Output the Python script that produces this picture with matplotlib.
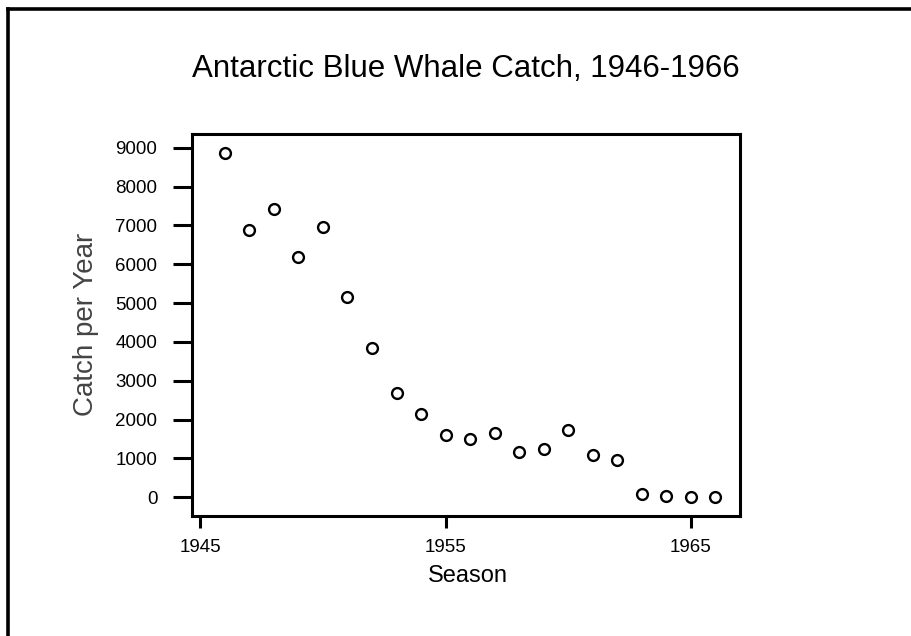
import matplotlib
matplotlib.use('Agg')
import matplotlib.pyplot as plt
from matplotlib.lines import Line2D

# Antarctic blue whale catch per season
seasons = list(range(1946, 1967))
catch = [8860, 6880, 7420, 6190, 6950, 5150, 3850, 2680, 2140, 1590, 1510,
         1660, 1170, 1250, 1740, 1100, 960, 75, 20, 15, 15]
x_ticks = [1945, 1955, 1965]
y_ticks = list(range(0, 10000, 1000))

plt.rcParams['font.family'] = ['Liberation Sans', 'DejaVu Sans']

fig = plt.figure(figsize=(9.12, 6.36), dpi=100)
ax = fig.add_axes([0.2102, 0.1892, 0.6012, 0.5997])

ax.plot(seasons, catch, linestyle='none', marker='o', markersize=7.8,
        markerfacecolor='white', markeredgecolor='black', markeredgewidth=1.7)

ax.set_xlim(1944.65, 1967.0)
ax.set_ylim(-474, 9345)
ax.set_xticks(x_ticks)
ax.set_yticks(y_ticks)
ax.set_xticklabels([str(t) for t in x_ticks])
ax.set_yticklabels([str(t) for t in y_ticks])

for s in ax.spines.values():
    s.set_linewidth(2.2)
ax.tick_params(axis='y', length=13.7, width=2.2, pad=11, labelsize=13.5)
ax.tick_params(axis='x', length=8.6, width=2.2, pad=8, labelsize=13.5)

fig.text(466 / 912, 1 - 77 / 636, 'Antarctic Blue Whale Catch, 1946-1966',
         ha='center', va='baseline', fontsize=22.5)
fig.text(468 / 912, 1 - 576 / 636, 'Season', ha='center', va='center',
         fontsize=17)
fig.text(86 / 912, 1 - 324 / 636, 'Catch per Year', ha='center',
         va='center', rotation=90, fontsize=20, color='#444444')

# partial frame round the picture (top and left edges only)
fig.add_artist(Line2D([8.5 / 912, 1.0], [1 - 8.5 / 636, 1 - 8.5 / 636],
                      transform=fig.transFigure, color='black', linewidth=2.6))
fig.add_artist(Line2D([8.5 / 912, 8.5 / 912], [0.0, 1 - 8.5 / 636],
                      transform=fig.transFigure, color='black', linewidth=2.6))

plt.savefig('out.png', dpi=100)
